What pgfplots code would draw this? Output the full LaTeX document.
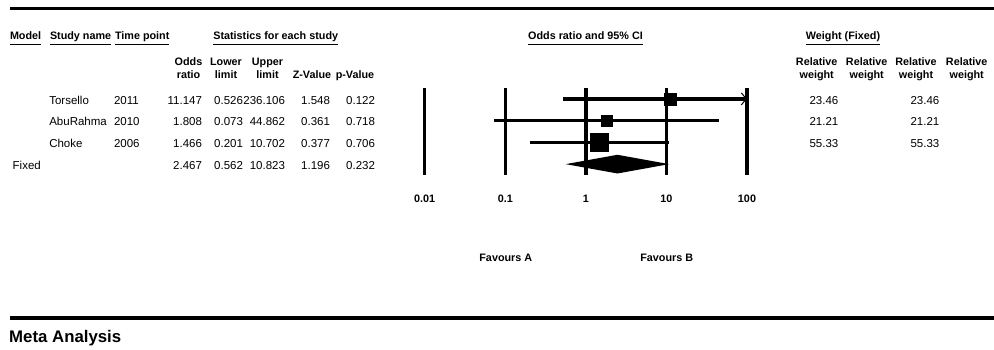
\documentclass[border=0pt]{standalone}
\usepackage{fontspec}
\setmainfont{Liberation Sans}
\usepackage{pgfplots}
\pgfplotsset{compat=1.18}
\usetikzlibrary{arrows.meta}

\newcommand\rg{\fontsize{11.5}{13}\selectfont}
\newcommand\bd{\bfseries\fontsize{10.8}{13}\selectfont}

\begin{document}
\begin{tikzpicture}[x=1pt,y=1pt,
  t/.style={inner sep=0pt, outer sep=0pt, font=\rg},
  h/.style={inner sep=0pt, outer sep=0pt, font=\bd},
  ul/.style={line width=1.6pt}]
\path[use as bounding box] (0,0) rectangle (994,-349);

% rules
\draw[line width=3.2pt] (10,-8.3) -- (994,-8.3);
\draw[line width=3.2pt] (10,-318) -- (994,-318);
\node[inner sep=0pt, anchor=base west, font=\bfseries\fontsize{16.8}{19}\selectfont] at (9,-342.5) {Meta Analysis};

% group headers, underlined
\foreach \name/\x/\txt in {m/10/Model, s/50/Study name, tp/115/Time point, st/213.3/Statistics for each study}{
  \node[h, anchor=base west] (\name) at (\x,-39.5) {\txt};
  \draw[ul] ([yshift=-5pt]\name.base west) -- ([yshift=-5pt]\name.base east);
}
\node[h, anchor=base] (orci) at (585.5,-39.5) {Odds ratio and 95\% CI};
\draw[ul] ([yshift=-5pt]orci.base west) -- ([yshift=-5pt]orci.base east);
\node[h, anchor=base] (wf) at (843,-39.5) {Weight (Fixed)};
\draw[ul] ([yshift=-5pt]wf.base west) -- ([yshift=-5pt]wf.base east);

% column headers
\foreach \x/\a/\b in {188.5/Odds/ratio, 226/Lower/limit, 267.5/Upper/limit,
                      816.7/Relative/weight, 866.7/Relative/weight,
                      916/Relative/weight, 966.7/Relative/weight}{
  \node[h, anchor=base] at (\x,-65) {\a};
  \node[h, anchor=base] at (\x,-78.3) {\b};
}
\node[h, anchor=base] at (312,-78.3) {Z-Value};
\node[h, anchor=base] at (355,-78.3) {p-Value};

% study rows
\foreach \y/\nm/\yr/\vor/\vlo/\vhi/\vz/\vp/\vw in {
  104.2/Torsello/2011/11.147/0.526/236.106/1.548/0.122/23.46,
  125.5/AbuRahma/2010/1.808/0.073/44.862/0.361/0.718/21.21,
  147.3/Choke/2006/1.466/0.201/10.702/0.377/0.706/55.33}{
  \node[t, anchor=base west] at (49.3,-\y) {\nm};
  \node[t, anchor=base west] at (114,-\y) {\yr};
  \node[t, anchor=base east] at (202,-\y) {\vor};
  \node[t, anchor=base east] at (243,-\y) {\vlo};
  \node[t, anchor=base east] at (285,-\y) {\vhi};
  \node[t, anchor=base east] at (330,-\y) {\vz};
  \node[t, anchor=base east] at (375,-\y) {\vp};
  \node[t, anchor=base east] at (838.3,-\y) {\vw};
  \node[t, anchor=base east] at (939.3,-\y) {\vw};
}
% pooled row
\node[t, anchor=base west] at (12.7,-169) {Fixed};
\node[t, anchor=base east] at (202,-169) {2.467};
\node[t, anchor=base east] at (243,-169) {0.562};
\node[t, anchor=base east] at (285,-169) {10.823};
\node[t, anchor=base east] at (330,-169) {1.196};
\node[t, anchor=base east] at (375,-169) {0.232};

% forest plot
\begin{axis}[
  at={(424.7pt,-175pt)}, anchor=south west,
  scale only axis, width=322.3pt, height=87pt,
  xmode=log, xmin=0.01, xmax=100,
  ymin=0.5, ymax=4.5, y dir=reverse,
  axis line style={draw=none},
  major tick length=0pt, tick style={draw=none},
  xtick={0.01,0.1,1,10,100}, xticklabels={0.01,0.1,1,10,100},
  ytick=\empty,
  xmajorgrids, grid style={black, line width=3.5pt},
  xticklabel style={font=\bd, anchor=base, inner sep=0pt, yshift=-27.7pt},
  clip=false,
]
\addplot[black, line width=3.5pt,
  -{Straight Barb[length=5pt, width=12pt, line width=1pt]}]
  coordinates {(0.526,1) (100,1)};
\addplot[black, line width=3.5pt] coordinates {(0.073,2) (44.862,2)};
\addplot[black, line width=3.5pt] coordinates {(0.201,3) (10.702,3)};
\addplot[only marks, mark=square*, mark size=6pt, mark options={draw=none, fill=black}]
  coordinates {(11.147,1)};
\addplot[only marks, mark=square*, mark size=5.5pt, mark options={draw=none, fill=black}]
  coordinates {(1.808,2)};
\addplot[only marks, mark=square*, mark size=8.7pt, mark options={draw=none, fill=black}]
  coordinates {(1.466,3)};
\addplot[fill=black, draw=none]
  coordinates {(0.562,4) (2.467,3.57) (10.823,4) (2.467,4.43)} -- cycle;
\end{axis}

\node[h, anchor=base] at (505.8,-261.7) {Favours A};
\node[h, anchor=base] at (666.7,-261.7) {Favours B};
\end{tikzpicture}
\end{document}
